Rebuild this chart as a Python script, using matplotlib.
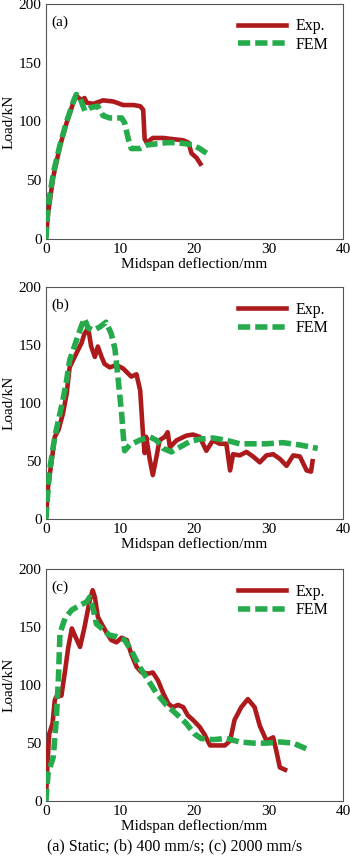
import matplotlib
matplotlib.use("Agg")
import matplotlib.pyplot as plt

plt.rcParams['font.family'] = ['Liberation Serif', 'DejaVu Serif']
plt.rcParams['font.size'] = 11

# panel (a) static
exp_a_x = [0, 0.3, 1.0, 1.9, 2.8, 3.7, 4.1, 4.8, 5.2, 5.5, 6.4, 7.7, 9.1, 10.4, 11.8, 12.7, 13.1, 13.3, 13.6,
           14.4, 15.8, 17.1, 18.5, 19.2, 19.6, 20.3, 20.8]
exp_a_y = [0, 22, 53, 79, 99, 116, 122, 118, 120, 116, 115, 118, 117, 114, 114, 113, 110, 85, 82,
           86, 86, 85, 84, 82, 73, 69, 64]
fem_a_x = [0, 0.3, 1.0, 1.9, 2.8, 3.7, 4.1, 4.6, 5.25, 6.1, 7.0, 7.7, 8.6, 10.2, 10.6, 11.1, 11.5, 12.7,
           13.6, 14.9, 16.3, 17.6, 18.9, 19.8, 20.7, 22.1]
fem_a_y = [0, 28, 56, 80, 100, 117, 123, 120, 109, 112, 113, 105, 103, 103, 99, 85, 77, 77,
           80, 81, 82, 82, 81, 80, 77, 71]

# panel (b) 400 mm/s
exp_b_x = [0, 0.3, 0.8, 1.2, 1.7, 2.3, 2.8, 3.2, 4.1, 4.8, 5.2, 5.7, 6.1, 6.6, 7.0, 7.5, 7.9, 8.6, 9.5,
           10.4, 11.5, 12.2, 12.7, 13.1, 13.3, 13.5, 14.0, 14.4, 14.9, 15.3, 16.0, 16.4, 16.7, 17.6,
           18.9, 19.8, 20.7, 21.6, 22.5, 23.4, 24.3, 24.8, 25.2, 26.1, 27.0, 27.9, 28.8, 29.7, 30.6,
           31.5, 32.4, 33.3, 34.2, 35.1, 35.7, 35.9]
exp_b_y = [0, 28, 51, 71, 77, 91, 108, 131, 143, 152, 160, 165, 149, 140, 149, 140, 134, 131, 133,
           130, 123, 125, 111, 71, 57, 71, 51, 38, 54, 68, 71, 75, 62, 68,
           72, 73, 71, 59, 68, 65, 65, 42, 56, 55, 58, 54, 49, 55, 56,
           52, 46, 55, 54, 42, 41, 50]
fem_b_x = [0, 0.5, 1.2, 2.3, 2.8, 3.2, 4.1, 4.8, 5.2, 5.7, 6.4, 7.3, 8.1, 8.8, 9.3, 9.7, 10.2, 10.4, 10.6,
           11.3, 12.6, 14.0, 14.9, 15.8, 16.9, 18.0, 19.4, 20.7, 22.5, 24.3, 26.1, 27.9, 29.7, 31.9,
           34.2, 36.6]
fem_b_y = [0, 42, 71, 103, 120, 137, 154, 167, 173, 165, 163, 166, 170, 160, 147, 123, 91, 74, 59,
           64, 68, 71, 68, 61, 58, 62, 67, 69, 70, 68, 65, 65, 65, 66,
           64, 61]

# panel (c) 2000 mm/s
exp_c_x = [0, 0.2, 0.45, 0.9, 1.2, 1.4, 2.1, 2.6, 3.0, 3.5, 3.9, 4.6, 5.2, 5.9, 6.3, 6.6, 7.0, 7.5, 8.2,
           8.8, 9.5, 10.2, 10.9, 11.5, 12.2, 12.9, 13.8, 14.4, 15.1, 15.8, 16.5, 17.1, 17.8, 18.5,
           19.1, 19.8, 20.7, 21.4, 22.1, 22.9, 24.1, 24.8, 25.4, 26.3, 27.2, 28.1, 28.8, 29.7, 30.6,
           31.0, 31.5, 32.2]
exp_c_y = [0, 29, 58, 67, 87, 90, 91, 113, 132, 149, 143, 133, 150, 173, 182, 176, 159, 153, 145,
           139, 137, 141, 139, 127, 116, 111, 110, 111, 104, 93, 84, 81, 83, 81,
           74, 70, 64, 57, 48, 48, 48, 52, 70, 81, 88, 81, 65, 52, 55,
           44, 29, 27]
fem_c_x = [0, 0.3, 1.0, 1.4, 1.7, 1.9, 2.6, 3.5, 4.6, 5.5, 5.9, 6.4, 6.8, 7.7, 8.6, 9.5, 10.6, 11.5,
           12.6, 13.8, 14.9, 16.2, 17.6, 18.9, 20.0, 20.9, 22.5, 24.3, 26.1, 27.9, 29.7, 31.5, 33.3,
           35.1]
fem_c_y = [0, 24, 38, 70, 107, 145, 158, 165, 169, 172, 176, 165, 153, 148, 143, 142, 139, 130,
           116, 104, 93, 83, 75, 67, 58, 54, 53, 54, 51, 50, 50, 51, 50,
           45]

panels = [
    ("(a)", exp_a_x, exp_a_y, fem_a_x, fem_a_y, [0.131, 0.7214, 0.849, 0.274]),
    ("(b)", exp_b_x, exp_b_y, fem_b_x, fem_b_y, [0.131, 0.395, 0.849, 0.270]),
    ("(c)", exp_c_x, exp_c_y, fem_c_x, fem_c_y, [0.131, 0.0664, 0.849, 0.270]),
]

red = '#ad1a1c'
green = '#25aa4c'

fig = plt.figure(figsize=(3.5, 8.58), dpi=100)
for tag, ex, ey, fx, fy, rect in panels:
    ax = fig.add_axes(rect)
    ax.plot(ex, ey, color=red, lw=3.3, label='Exp.', zorder=3)
    ax.plot(fx, fy, color=green, lw=4, ls=(0, (2.2, 0.9)), label='FEM', zorder=4)
    ax.set_xlim(0, 40)
    ax.set_ylim(0, 200)
    ax.set_xticks([0, 10, 20, 30, 40])
    ax.set_yticks([0, 50, 100, 150, 200])
    ax.tick_params(length=0, pad=3)
    for s in ax.spines.values():
        s.set_color('#555555')
        s.set_linewidth(0.8)
    ax.set_xlabel('Midspan deflection/mm', labelpad=1)
    ax.set_ylabel('Load/kN', labelpad=2)
    ax.text(0.02, 0.95, tag, transform=ax.transAxes, va='top', ha='left')
    ax.legend(loc='upper right', frameon=False, handlelength=3.0, handletextpad=0.6,
              labelspacing=0.15, borderaxespad=0.5, fontsize=11.5)

fig.text(0.5, 0.014, '(a) Static; (b) 400 mm/s; (c) 2000 mm/s', ha='center', va='center', fontsize=11.5)
fig.savefig('out.png', dpi=100)
